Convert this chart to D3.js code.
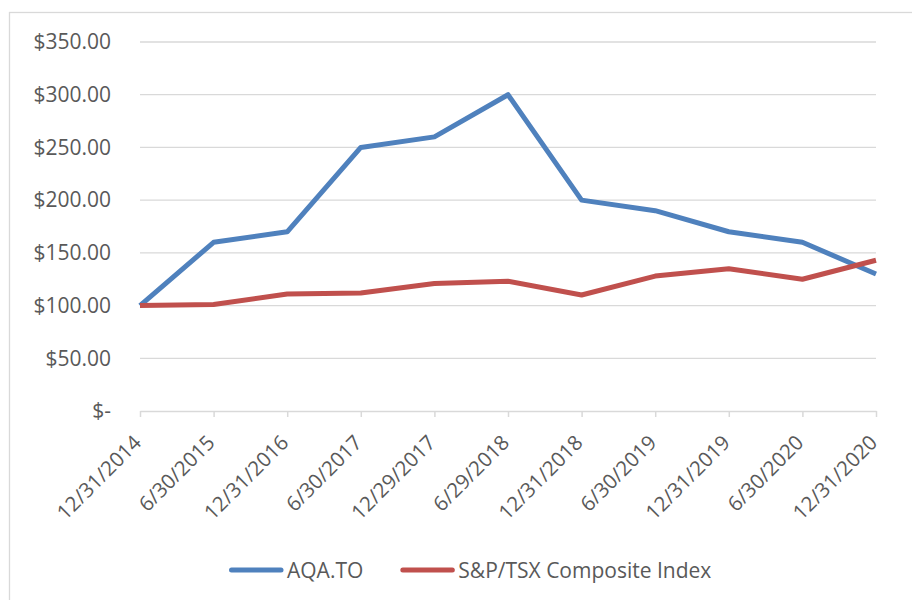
<!DOCTYPE html>
<html>
<head>
<meta charset="utf-8">
<script src="https://cdn.jsdelivr.net/npm/d3@7"></script>
<style>
  body { margin: 0; background: #fff; }
  svg, svg text { font-family: "Open Sans", sans-serif; }
  svg { display: block; }
</style>
</head>
<body>
<div id="chart"></div>
<script>
// Data
const dates = ["12/31/2014", "6/30/2015", "12/31/2016", "6/30/2017", "12/29/2017",
  "6/29/2018", "12/31/2018", "6/30/2019", "12/31/2019", "6/30/2020", "12/31/2020"];
const aqaValues = [100, 160, 170, 250, 260, 300, 200, 190, 170, 160, 130];
const tsxValues = [100, 101, 111, 112, 121, 123, 110, 128, 135, 125, 143];
const yTicks = [0, 50, 100, 150, 200, 250, 300, 350];
const seriesNames = ["AQA.TO", "S&P/TSX Composite Index"];
const seriesColors = ["#4f81bd", "#c0504d"];

const W = 912, H = 600;
const margin = { top: 42, right: 36, bottom: 189, left: 140 };

const svg = d3.select("#chart").append("svg")
  .attr("width", W).attr("height", H);

// chart area border
svg.append("rect")
  .attr("x", 9.5).attr("y", 12.5)
  .attr("width", W).attr("height", H)
  .attr("fill", "none").attr("stroke", "#d9d9d9").attr("stroke-width", 1.3);

const x = d3.scalePoint()
  .domain(dates)
  .range([margin.left, W - margin.right]);

const y = d3.scaleLinear()
  .domain([0, 350])
  .range([H - margin.bottom, margin.top]);

const fmt = v => v === 0 ? "$-" : "$" + d3.format(",.2f")(v);

// gridlines
svg.append("g")
  .selectAll("line")
  .data(yTicks.filter(d => d > 0))
  .join("line")
  .attr("x1", margin.left).attr("x2", W - margin.right)
  .attr("y1", d => y(d)).attr("y2", d => y(d))
  .attr("stroke", "#d9d9d9").attr("stroke-width", 1.3);

// y axis labels
const yAxis = svg.append("g")
  .attr("transform", `translate(${margin.left},0)`)
  .call(d3.axisLeft(y).tickValues(yTicks).tickFormat(fmt).tickSize(0).tickPadding(29))
  .attr("font-family", null);
yAxis.select(".domain").remove();
yAxis.selectAll("text")
  .attr("fill", "#595959")
  .style("font-size", "21px");

// x axis
const xAxis = svg.append("g")
  .attr("transform", `translate(0,${y(0)})`)
  .call(d3.axisBottom(x).tickSizeInner(6).tickSizeOuter(0))
  .attr("font-family", null);
xAxis.select(".domain").attr("stroke", "#d9d9d9").attr("stroke-width", 1.5);
xAxis.selectAll(".tick line").attr("stroke", "#d9d9d9").attr("stroke-width", 1.5);
xAxis.selectAll("text")
  .attr("fill", "#595959")
  .style("font-size", "20.5px")
  .attr("text-anchor", "end")
  .attr("x", 0).attr("y", 0).attr("dy", 0)
  .attr("transform", "translate(2,33) rotate(-45)");

// lines
const line = d3.line()
  .x((d, i) => x(dates[i]))
  .y(d => y(d));

[aqaValues, tsxValues].forEach((vals, i) => {
  svg.append("path")
    .datum(vals)
    .attr("fill", "none")
    .attr("stroke", seriesColors[i])
    .attr("stroke-width", 5)
    .attr("stroke-linejoin", "round")
    .attr("d", line);
});

// legend
const legend = svg.append("g");
let lx = 229;
const ly = 570;
seriesNames.forEach((name, i) => {
  legend.append("line")
    .attr("x1", lx + 2.5).attr("x2", lx + 52)
    .attr("y1", ly).attr("y2", ly)
    .attr("stroke", seriesColors[i])
    .attr("stroke-width", 5)
    .attr("stroke-linecap", "round");
  const t = legend.append("text")
    .attr("x", lx + 58).attr("y", ly + 7.5)
    .attr("fill", "#595959")
    .style("font-size", "21px")
    .text(name);
  lx += 58 + t.node().getComputedTextLength() + 37;
});
</script>
</body>
</html>
